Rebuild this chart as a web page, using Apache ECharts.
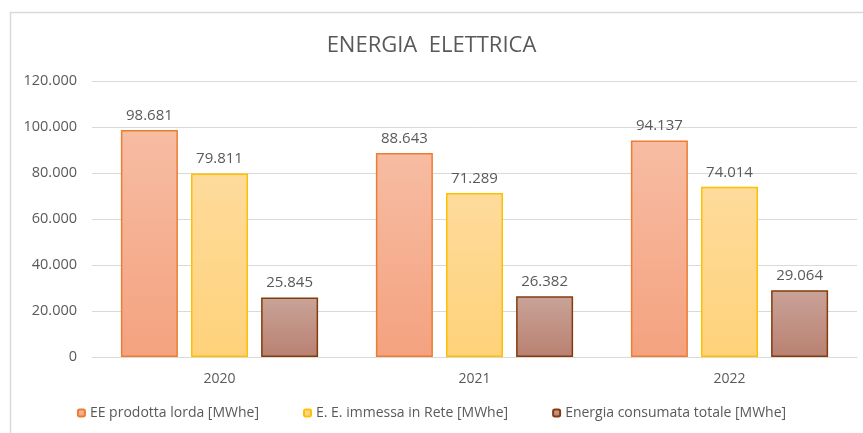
<!DOCTYPE html>
<html>
<head>
<meta charset="utf-8">
<script src="https://cdn.jsdelivr.net/npm/echarts@6/dist/echarts.min.js"></script>
<style>
  html, body { margin: 0; padding: 0; background: #fff; }
  #main { width: 863px; height: 433px; }
</style>
</head>
<body>
<div id="main"></div>
<script>
// dati
const years = ['2020', '2021', '2022'];
const eeProdotta = [98681, 88643, 94137];
const eeImmessa = [79811, 71289, 74014];
const energiaConsumata = [25845, 26382, 29064];
const seriesNames = ['EE prodotta lorda [MWhe]', 'E. E. immessa in Rete [MWhe]', 'Energia consumata totale [MWhe]'];

const FONT = 'Open Sans';
const TXT = '#595959';

// formato italiano: 98.681
function fmt(v) {
  return String(v).replace(/\B(?=(\d{3})+(?!\d))/g, '.');
}

function grad(top, bottom) {
  return new echarts.graphic.LinearGradient(0, 0, 0, 1, [
    { offset: 0, color: top },
    { offset: 1, color: bottom }
  ]);
}

function barSeries(name, data, top, bottom, border) {
  return {
    name: name,
    type: 'bar',
    data: data,
    barWidth: 57,
    barGap: '23%',
    itemStyle: { color: grad(top, bottom), borderColor: border, borderWidth: 1.5 },
    label: {
      show: true,
      position: 'top',
      distance: 7,
      color: TXT,
      fontFamily: FONT,
      fontSize: 15,
      formatter: p => fmt(p.value)
    }
  };
}

const chart = echarts.init(document.getElementById('main'));
const option = {
  backgroundColor: '#fff',
  animation: false,
  graphic: [{
    type: 'rect',
    shape: { x: 10.5, y: 12.5, width: 900, height: 500 },
    style: { fill: 'none', stroke: '#d9d9d9', lineWidth: 1.5 },
    silent: true
  }],
  title: {
    text: 'ENERGIA  ELETTRICA',
    left: 'center',
    top: 30,
    textStyle: { color: TXT, fontFamily: FONT, fontSize: 22, fontWeight: 'normal' }
  },
  legend: {
    bottom: 8,
    left: 'center',
    itemWidth: 7,
    itemHeight: 7,
    itemGap: 44,
    textStyle: { color: TXT, fontFamily: FONT, fontSize: 14 },
    data: seriesNames
  },
  grid: { left: 92, right: 6, top: 81, bottom: 76 },
  xAxis: {
    type: 'category',
    data: years,
    axisLine: { lineStyle: { color: '#d9d9d9', width: 1 } },
    axisTick: { show: false },
    axisLabel: { color: TXT, fontFamily: FONT, fontSize: 14, margin: 15 }
  },
  yAxis: {
    type: 'value',
    min: 0,
    max: 120000,
    interval: 20000,
    axisLine: { show: false },
    axisTick: { show: false },
    splitLine: { lineStyle: { color: '#d9d9d9' } },
    axisLabel: { color: TXT, fontFamily: FONT, fontSize: 14.5, margin: 15, formatter: v => fmt(v) }
  },
  series: [
    barSeries(seriesNames[0], eeProdotta, '#f7bca3', '#f4a27f', '#ed7d31'),
    barSeries(seriesNames[1], eeImmessa, '#fedb9c', '#ffd27a', '#ffc000'),
    barSeries(seriesNames[2], energiaConsumata, '#c9a398', '#b98171', '#843c0c')
  ]
};
option && chart.setOption(option);
</script>
</body>
</html>
